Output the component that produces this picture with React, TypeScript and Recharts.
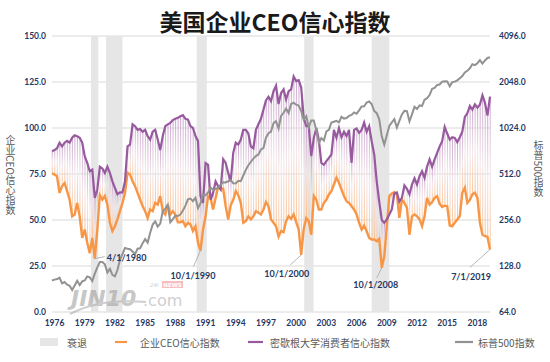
import React from 'react';
import { ComposedChart, Line, Bar, XAxis, YAxis, CartesianGrid, ReferenceArea, ReferenceDot } from 'recharts';

// ---- data (quarterly, 1976 Q1 .. 2019 Q3) ----
const startYear = 1976;

const ceoIndex = [
  75.3, 74.7, 73.8, 64.7, 68.4, 70, 65.7, 61, 52, 53, 59.3, 52,
  40.3, 44.8, 37.6, 32, 40.3, 29, 44.8, 63.5, 61, 63, 58.4, 48.5,
  44, 46.6, 50.3, 54.8, 59.3, 64.7, 75.6, 74.7, 71, 68.4, 64.7, 61,
  57.5, 54.8, 51, 55.7, 54.8, 59.3, 58.4, 63, 54.8, 53, 58.4, 53,
  54.8, 53, 48.7, 48.7, 49.4, 46.6, 48.4, 47.6, 44, 46.6, 37.6, 33.4,
  44.8, 52, 63, 62, 55.7, 62, 68, 67, 67, 57.5, 50.3, 58,
  61, 65.7, 63.5, 59.3, 48.5, 49.4, 52, 50.3, 52, 54.8, 53.9, 53,
  55.7, 59.7, 57.5, 50.3, 48.5, 46.6, 41, 44, 43.4, 49.4, 52, 50.6,
  53, 48.8, 44.8, 31, 45, 51, 49.4, 42, 63, 61, 55.7, 55.7,
  59.3, 61, 63.9, 65.7, 69.3, 73, 70.2, 66.6, 63, 60.2, 59.3, 57.5,
  55.7, 53, 48.5, 44.8, 47, 43.9, 40.3, 39.4, 39.4, 38.5, 39.8, 24,
  30.3, 46.6, 63, 64.4, 65.1, 64, 51.2, 61, 59.3, 56.6, 42, 52,
  53, 52, 50.3, 46.6, 52, 62, 58.4, 59.7, 62, 63, 58.8, 57.1,
  57.8, 57.5, 47, 46.6, 48.5, 50.3, 52, 64.8, 67.5, 59.3, 61, 63.9,
  64.8, 62, 48.5, 42, 41.2, 40.9, 34,
];

const michiganSentiment = [
  87.4, 88, 89, 92, 90, 92, 93, 92, 94.7, 96, 95.5, 94.7,
  92, 84.7, 81, 76.5, 77.4, 62, 66.6, 79, 78, 75.6, 79, 75.6,
  71, 67.5, 64, 65, 65, 71, 90, 91, 102, 101, 99, 99.5,
  98, 99, 95.6, 93.7, 98, 99, 93.7, 88, 95.6, 101, 102, 102.8,
  104.3, 105, 105.5, 106.4, 107, 105, 104.6, 101, 100, 95.6, 93, 63,
  59.3, 81, 80, 61, 64.7, 71, 68.4, 66.6, 83, 81, 75.6, 71,
  86.5, 92, 91, 93.7, 99, 99, 97, 90, 89, 99, 102, 105,
  110, 115, 117, 114.6, 120, 123, 113, 119, 121, 115.5, 120, 121,
  128, 125.5, 126, 122, 105.5, 101, 101, 84.7, 94.6, 100, 93.7, 81,
  80, 82, 83.8, 85.6, 99, 94.7, 100, 95, 98, 95.6, 99, 81,
  99, 99.7, 97.4, 99, 103, 98, 101, 92.8, 85.6, 71, 60, 50,
  48.5, 50.3, 53, 55.7, 64.4, 65, 60, 62, 68.8, 67, 64, 69.3,
  72.7, 69.3, 73.8, 76.5, 73, 79, 83, 79, 83, 86.5, 90, 92.8,
  100.6, 97, 93.7, 95, 94.6, 92.3, 95, 98, 106, 108, 112, 110,
  112.8, 111, 112.8, 117.8, 113.7, 106.8, 117,
];

const sp500Index = [
  102.8, 104.3, 105.2, 107.5, 98.4, 100.5, 96.5, 95.1, 89.2, 95.5, 102.5, 96.1,
  101.6, 102.9, 109.3, 107.9, 102.1, 114.2, 125.5, 135.8, 136.0, 131.2, 116.2, 122.6,
  112.0, 109.6, 120.4, 140.6, 153.0, 168.1, 166.1, 164.9, 159.2, 153.2, 166.1, 167.2,
  180.7, 191.9, 182.1, 211.3, 238.9, 250.8, 231.3, 242.2, 291.7, 304.0, 321.8, 247.1,
  258.9, 273.5, 271.9, 277.7, 294.9, 318.0, 349.2, 353.4, 339.9, 358.0, 306.1, 330.2,
  375.2, 371.2, 387.9, 417.1, 403.7, 408.1, 417.8, 435.7, 451.7, 450.5, 458.9, 466.5,
  445.8, 444.3, 462.7, 459.3, 500.7, 544.8, 584.4, 615.9, 645.5, 670.6, 687.3, 740.7,
  757.1, 885.1, 947.3, 970.4, 1101.8, 1133.8, 1017.0, 1229.2, 1286.4, 1372.7, 1282.7, 1469.3,
  1498.6, 1454.6, 1436.5, 1320.3, 1160.3, 1224.4, 1040.9, 1148.1, 1147.4, 989.8, 815.3, 879.8,
  848.2, 974.5, 996.0, 1111.9, 1126.2, 1140.8, 1114.6, 1211.9, 1180.6, 1191.3, 1228.8, 1248.3,
  1294.8, 1270.2, 1335.9, 1418.3, 1420.9, 1503.4, 1526.8, 1468.4, 1322.7, 1280.0, 1166.4, 903.3,
  797.9, 919.3, 1057.1, 1115.1, 1169.4, 1030.7, 1141.2, 1257.6, 1325.8, 1320.6, 1131.4, 1257.6,
  1408.5, 1362.2, 1440.7, 1426.2, 1569.2, 1606.3, 1681.6, 1848.4, 1872.3, 1960.2, 1972.3, 2058.9,
  2067.9, 2063.1, 1920.0, 2043.9, 2059.7, 2098.9, 2168.3, 2238.8, 2362.7, 2423.4, 2519.4, 2673.6,
  2640.9, 2718.4, 2850.0, 2700.0, 2834.4, 2941.8, 2976.7,
];

const xTickYears = [1976, 1979, 1982, 1985, 1988, 1991, 1994, 1997, 2000, 2003, 2006, 2009, 2012, 2015, 2018];
const leftTicks = [0, 25, 50, 75, 100, 125, 150];
const rightTicks = [64, 128, 256, 512, 1024, 2048, 4096];

const recessionStarts = [1979.87, 1981.36, 1990.37, 2001.05, 2007.75];
const recessionEnds = [1980.6, 1983.0, 1991.37, 2001.98, 2009.5];

const annotationIndex = [17, 59, 99, 131, 174];
const annotationText = ['4/1/1980', '10/1/1990', '10/1/2000', '10/1/2008', '7/1/2019'];

const leftAxisTitle = '企业CEO信心指数';
const rightAxisTitle = '标普500指数';

// ---- styling (not data) ----
const annotationOffsets = [
  { lx: 10, ly: -2, tx: 12, ty: -1, anchor: 'start' },
  { lx: -7, ly: 16, tx: -7.5, ty: 25, anchor: 'middle' },
  { lx: -11, ly: 10, tx: -14.5, ty: 18.5, anchor: 'middle' },
  { lx: -5, ly: 10, tx: -6, ty: 17, anchor: 'middle' },
  { lx: -20, ly: 18, tx: -19, ty: 27, anchor: 'middle' },
];

const ORANGE = '#F79646';
const PURPLE = '#985A9E';
const GRAY = '#929292';
const NAVY = '#1F3864';
const REC = '#E7E6E6';

const rows = ceoIndex.map((v, i) => ({
  t: startYear + i * 0.25,
  ceo: v,
  mich: michiganSentiment[i],
  sp: sp500Index[i],
  hl: [Math.min(v, michiganSentiment[i]), Math.max(v, michiganSentiment[i])],
}));

const tickStyle = { fontFamily: 'Lato', fontWeight: 700, fontSize: 8.5, fill: NAVY };

function makeAnnotationShape(k: number) {
  return (props: any) => {
    const { cx, cy } = props;
    const o = annotationOffsets[k];
    return (
      <g>
        <line x1={cx} y1={cy} x2={cx + o.lx} y2={cy + o.ly} stroke="#A6A6A6" strokeWidth={0.8} />
        <text
          x={cx + o.tx}
          y={cy + o.ty}
          textAnchor={o.anchor as any}
          dominantBaseline="central"
          fontFamily="Lato"
          fontWeight={700}
          fontSize={9}
          fill={NAVY}
        >
          {annotationText[k]}
        </text>
      </g>
    );
  };
}

const CJK = '"Noto Sans CJK SC", sans-serif';
const legendFont = { fontFamily: CJK, fontSize: 10, fill: '#595959' };

const verticalLabelStyle = (cx: number, cy: number): React.CSSProperties => ({
  position: 'absolute',
  left: cx,
  top: cy,
  transform: 'translate(-50%, -50%)',
  writingMode: 'vertical-rl',
  textOrientation: 'mixed',
  fontFamily: CJK,
  fontSize: 10,
  lineHeight: '12px',
  color: '#595959',
  whiteSpace: 'nowrap',
  pointerEvents: 'none',
});

export default function App() {
  return (
    <div style={{ position: 'absolute', left: 0, top: 0, width: 550, height: 362, background: '#fff' }}>
      <div style={{ position: 'absolute', left: 0, top: 0 }}>
        <ComposedChart width={550} height={362} data={rows} margin={{ top: 36, right: 15, bottom: 30, left: 12 }}>
          <CartesianGrid yAxisId="left" vertical={false} stroke="#D9D9D9" strokeWidth={1} />
          <XAxis
            dataKey="t"
            type="number"
            domain={[1976, 2019.5]}
            ticks={xTickYears.map((y) => y + 0.25)}
            tickFormatter={(v: number) => String(Math.floor(v))}
            axisLine={false}
            tickLine={false}
            tickSize={0}
            tickMargin={8}
            height={20}
            tick={tickStyle}
            interval={0}
          />
          <YAxis
            yAxisId="left"
            domain={[0, 150]}
            ticks={leftTicks}
            tickFormatter={(v: number) => v.toFixed(1)}
            axisLine={false}
            tickLine={false}
            tickSize={0}
            tickMargin={6}
            width={40}
            tick={tickStyle}
            interval={0}
          />
          <YAxis
            yAxisId="right"
            orientation="right"
            scale="log"
            domain={[64, 4096]}
            ticks={rightTicks}
            tickFormatter={(v: number) => v.toFixed(1)}
            axisLine={false}
            tickLine={false}
            tickSize={0}
            tickMargin={9}
            width={45}
            tick={tickStyle}
            interval={0}
            allowDataOverflow
          />
          {recessionStarts.map((s, k) => (
            <ReferenceArea
              key={'r' + k}
              yAxisId="left"
              x1={s}
              x2={recessionEnds[k]}
              y1={0}
              y2={150}
              fill={REC}
              fillOpacity={1}
              stroke="none"
              ifOverflow="visible"
            />
          ))}
          <defs>
            <linearGradient id="hlGrad" x1="0" y1="0" x2="0" y2="1">
              <stop offset="0%" stopColor="#C9A2CD" />
              <stop offset="50%" stopColor="#F3E6EA" />
              <stop offset="100%" stopColor="#FAC192" />
            </linearGradient>
          </defs>
          <Bar yAxisId="left" dataKey="hl" barSize={1} fill="url(#hlGrad)" isAnimationActive={false} />
          <Line yAxisId="left" type="linear" dataKey="ceo" stroke={ORANGE} strokeWidth={2.4} dot={false} isAnimationActive={false} />
          <Line yAxisId="left" type="linear" dataKey="mich" stroke={PURPLE} strokeWidth={2.2} dot={false} isAnimationActive={false} />
          <Line yAxisId="right" type="linear" dataKey="sp" stroke={GRAY} strokeWidth={2} dot={false} isAnimationActive={false} />
          {annotationIndex.map((idx, k) => (
            <ReferenceDot
              key={'a' + k}
              yAxisId="left"
              x={rows[idx].t}
              y={rows[idx].ceo}
              r={1}
              ifOverflow="visible"
              shape={makeAnnotationShape(k)}
            />
          ))}
        </ComposedChart>
      </div>
      {/* overlay: watermark, title, legend */}
      <svg width={550} height={362} style={{ position: 'absolute', left: 0, top: 0, pointerEvents: 'none' }}>
        <g opacity={0.55}>
          <text x={71} y={306} fontFamily="DejaVu Sans" fontWeight={700} fontStyle="italic" fontSize={22} fill="#9a9a9a">JIN10</text>
          <text x={143} y={306} fontFamily="DejaVu Sans" fontSize={16} fill="#a8a8a8">.com</text>
          <text x={150} y={287} fontFamily="DejaVu Sans" fontStyle="italic" fontSize={5.5} fill="#a0a0a0">24i</text>
          <rect x={162} y={281} width={21} height={7} fill="#f08a8a" />
          <text x={172.5} y={286.6} textAnchor="middle" fontFamily="DejaVu Sans" fontWeight={700} fontSize={5.5} fill="#ffffff">NEWS</text>
          <path d="M 70 314 Q 100 298 146 302" stroke="#a8a8a8" strokeWidth={2} fill="none" />
        </g>
        <text x={275} y={31} textAnchor="middle" fontFamily={CJK} fontWeight={700} fontSize={23} fill="#1a1a1a">
          美国企业CEO信心指数
        </text>
        {/* legend */}
        <rect x={40} y={338} width={18} height={8} fill={REC} />
        <text x={67} y={342} dominantBaseline="central" {...legendFont}>衰退</text>
        <line x1={115} y1={342} x2={127} y2={342} stroke={ORANGE} strokeWidth={2.2} />
        <text x={140} y={342} dominantBaseline="central" {...legendFont}>企业CEO信心指数</text>
        <line x1={248} y1={342} x2={263} y2={342} stroke={PURPLE} strokeWidth={2.2} />
        <text x={270} y={342} dominantBaseline="central" {...legendFont}>密歇根大学消费者信心指数</text>
        <line x1={455} y1={342} x2={473} y2={342} stroke={GRAY} strokeWidth={2.2} />
        <text x={478} y={342} dominantBaseline="central" {...legendFont}>标普500指数</text>
      </svg>
      <div style={verticalLabelStyle(10, 175)}>{leftAxisTitle}</div>
      <div style={verticalLabelStyle(538, 169)}>{rightAxisTitle}</div>
    </div>
  );
}
